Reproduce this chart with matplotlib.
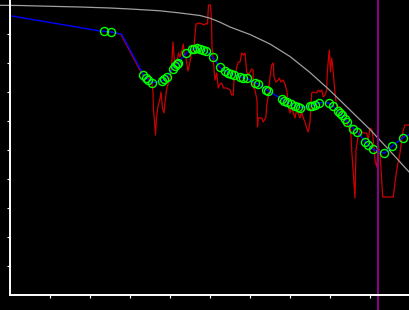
import numpy as np
from matplotlib import pyplot as plt

# smooth gray curve
gray_x = [-10, 10, 40, 70, 100, 120, 150, 170, 190, 200, 210, 220, 240, 260, 280, 300, 320, 340, 360, 380, 400]
gray_y = [289.7, 289.5, 288.7, 288, 287, 286, 284.2, 282, 279.5, 276.8, 272.8, 268, 260.5, 251, 238.5, 222.5, 204.5, 185, 165.5, 144, 122]

# blue line, first two points carry no marker, one more unmarked vertex at index 4, last point unmarked
blue_x = [0, 90, 94.3, 101.3, 111.7, 133.3, 136.5, 138.5, 141.7, 151.7, 154.5, 156.7, 162.7, 165, 166.7, 168.3,
          176.3, 181.7, 184, 186.7, 190.3, 193, 196.3, 202.7, 210, 215, 218.5, 221, 224, 230, 233, 236.7,
          245.5, 248, 256, 258.3, 271.7, 274, 276.7, 280.7, 285, 288, 290.5, 300.3, 302.5, 305, 309.2,
          319.3, 323.3, 328.3, 330, 331.7, 335.3, 337.3, 343.5, 347.3, 355.5, 358.3, 362.7, 374.3, 381.7, 393.3, 400]
blue_y = [279.3, 264, 263.7, 263, 260.7, 220.5, 217.5, 215, 212, 214, 216, 217.7, 226, 229, 230.7, 232.5,
          241.7, 245.7, 246.5, 246.7, 246.3, 245, 243.7, 237.7, 227.7, 224, 222.5, 221, 220, 218.5, 217.5, 216.7,
          212, 211, 205.5, 204, 196, 194.5, 193.3, 191.5, 189.2, 188, 187.5, 188.7, 189.5, 190.5, 192.3,
          192, 188.7, 183.7, 182, 180, 175.7, 173.3, 166.3, 163.3, 153.3, 150, 145.8, 141.7, 148.7, 157.5, 161]
no_marker = [0, 1, 4, len(blue_x) - 1]

red_x = [101, 111, 132, 136, 140, 142, 143, 143.5, 144.5, 145.5, 146.5, 148, 150, 151, 152.5, 154, 155, 156.5,
         158, 160, 161.5, 163, 164.5, 167, 168.5, 170, 172, 173.3, 174.5, 176, 178, 180, 181.5, 184, 186, 189,
         192, 194, 196, 197.5, 198.5, 200.5, 201.5, 202, 203.3, 205, 206.7, 208.3, 210, 211.7, 213.3, 216.7,
         220, 221.7, 223.3, 224, 226.7, 228.3, 230, 231.7, 233.3, 235, 236.7, 238.3, 240, 241.7, 243, 243.5,
         245, 247, 247.5, 248.3, 251.7, 253.3, 256, 256.5, 258, 260, 261.7, 263.3, 264, 266, 268.3, 269.3,
         271, 273, 275, 277, 278.5, 280, 281.7, 283.3, 285, 286.7, 288, 290, 291.7, 293.3, 295, 296.7, 298.3,
         300, 301.7, 303.3, 306.7, 308.3, 310, 311.7, 313.3, 315, 316.7, 317.3, 318.3, 319.3, 320.5, 321.7,
         323.3, 325, 326.7, 330, 331.7, 335, 338.3, 340.7, 341.7, 343.3, 345, 346, 348, 350, 353, 356.7, 358.3,
         360, 362, 363.3, 365, 366.7, 368.3, 370, 371.7, 372.7, 383.3, 385, 386.7, 390, 391.7, 393.3, 395, 400]
red_y = [263, 260.5, 221, 218, 215, 211, 203, 185, 174, 160, 177, 189, 196, 203, 187, 182, 192, 205,
         211, 217, 228, 253, 232, 233, 242, 238, 245, 251, 239, 237, 224, 233, 243, 249, 271, 272,
         271, 270, 271.5, 271, 290, 290, 275, 248, 235, 215, 222, 207, 211, 212, 207, 207,
         205, 200, 200, 215, 228, 233, 233, 242, 240, 242, 223, 220, 223, 226, 225, 207,
         205, 195, 168, 177, 177, 173, 178, 188, 197, 218, 230, 232, 218, 213, 215, 217,
         213, 215, 211, 203, 187, 182, 188, 182, 177, 185, 182, 177, 183, 177, 173, 167, 163,
         173, 202, 203, 202, 205, 203, 205, 198, 200, 205, 222, 235, 245, 223, 237,
         222, 202, 188, 188, 180, 177, 168, 165, 145, 122, 97, 145, 158, 165, 162, 162, 155,
         167, 165, 155, 135, 128, 148, 143, 115, 98, 98, 112, 125, 142, 155, 165, 170, 170]

event_x = 368.3

x_ticks = [40, 80, 120, 160, 200, 240, 280, 320, 360]
y_ticks = [29, 58, 87, 116, 145, 174, 203, 232, 261]

fig = plt.figure(figsize=(4.1, 3.1), dpi=100, facecolor="black")
ax = fig.add_axes([0, 0, 1, 1])
ax.set_facecolor("black")

ax.plot(red_x, red_y, color="#cc0000", linewidth=0.9, zorder=2)
ax.plot(gray_x, gray_y, color="#a0a0a0", linewidth=0.9, zorder=3)
ax.plot(blue_x, blue_y, color="#0000ff", linewidth=1.0, zorder=4)

mk = [i for i in range(len(blue_x)) if i not in no_marker]
ax.plot(np.array(blue_x)[mk], np.array(blue_y)[mk], linestyle="none", marker="o", markersize=5.8,
        markerfacecolor="none", markeredgecolor="#00ff00", markeredgewidth=1.0, zorder=5)

ax.axvline(event_x, color="#990099", linewidth=1.3, zorder=6)

ax.set_xlim(-10, 400)
ax.set_ylim(-15, 295)

for side in ["top", "right"]:
    ax.spines[side].set_visible(False)
ax.spines["left"].set_position(("data", 0))
ax.spines["bottom"].set_position(("data", 0))
ax.spines["left"].set_bounds(0, 295)
ax.spines["bottom"].set_bounds(0, 400)
for side in ["left", "bottom"]:
    ax.spines[side].set_color("white")
    ax.spines[side].set_linewidth(1.4)
    ax.spines[side].set_zorder(7)

ax.set_xticks(x_ticks)
ax.set_yticks(y_ticks)
ax.set_xticklabels([])
ax.set_yticklabels([])
ax.tick_params(colors="white", direction="out", length=2.5, width=0.8)

plt.savefig("out.png", dpi=100, facecolor="black")
